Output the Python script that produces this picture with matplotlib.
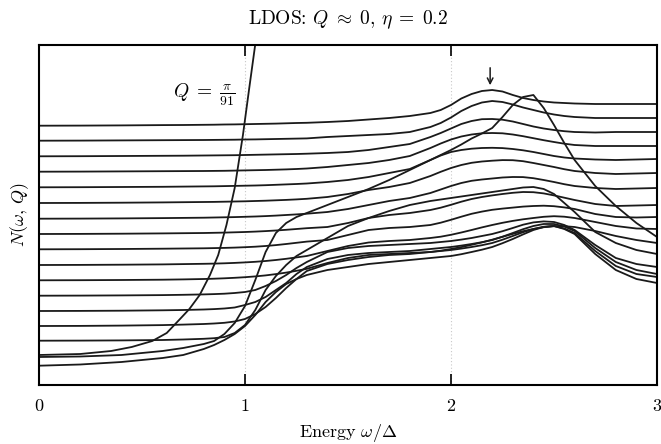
import matplotlib
matplotlib.use('Agg')
import matplotlib.pyplot as plt

plt.rcParams['font.family'] = 'serif'
plt.rcParams['font.serif'] = ['cmr10']
plt.rcParams['mathtext.fontset'] = 'cm'
plt.rcParams['axes.formatter.use_mathtext'] = True

# energy grid omega/Delta
omega = [0, 0.2, 0.4, 0.6, 0.7, 0.8, 0.85, 0.9, 0.95, 1.0,
         1.05, 1.1, 1.15, 1.2, 1.25, 1.3, 1.4, 1.5, 1.6, 1.7, 1.8,
         1.9, 1.95, 2.0, 2.05, 2.1, 2.15, 2.2, 2.25, 2.3, 2.35, 2.4, 2.45, 2.5, 2.55, 2.6,
         2.7, 2.8, 2.9, 3.0]

# Q = pi/91 curve (leaves the frame just above omega = 1)
omega_q91 = [0, 0.2, 0.35, 0.45, 0.55, 0.62, 0.68, 0.73, 0.78, 0.83,
             0.87, 0.91, 0.95, 0.99, 1.02, 1.05, 1.07]
n_q91 = [30, 31, 34, 38, 44, 52, 65, 76, 90, 110,
         130, 160, 197, 250, 296, 341, 375]

# flat family, top to bottom
flat_01 = [259.3, 259.4, 259.6, 259.9, 260, 260.2, 260.3, 260.5, 260.6, 260.8,
           261, 261.2, 261.4, 261.7, 262, 262.2, 263, 264, 265.5, 267, 269,
           272, 275, 280, 286.5, 291, 294, 295, 293.5, 290, 287, 285, 283.5, 282.5, 282, 281.5,
           281, 281, 281, 281]
flat_02 = [244.3, 244.4, 244.6, 244.8, 244.9, 245, 245.1, 245.2, 245.3, 245.5,
           245.6, 245.8, 246, 246.2, 246.4, 246.6, 248, 249, 250, 251, 253,
           258, 262, 267.5, 274, 279, 282.5, 284, 283, 280.5, 277.5, 275, 272.5, 270.5, 269, 268,
           267, 267, 267, 267]
flat_03 = [228.7, 228.8, 229, 229.2, 229.3, 229.5, 229.6, 229.7, 229.8, 230,
           230.2, 230.4, 230.6, 230.8, 231, 231.3, 232, 233, 235, 238, 241,
           248, 252, 256.5, 261, 264, 265.8, 266, 265.3, 263.5, 261, 258.5, 256.5, 255, 253.8, 253,
           252.5, 253, 253, 253]
flat_04 = [213.3, 213.4, 213.6, 213.8, 213.9, 214, 214.1, 214.2, 214.4, 214.6,
           214.8, 215, 215.3, 215.6, 216, 216.5, 218, 220, 222, 225, 229,
           237, 241.5, 245.5, 248.5, 250.5, 251.7, 252, 251.7, 250.5, 248.8, 246.8, 244.8, 243, 241.3, 240,
           239, 239, 239, 239]
flat_05 = [197.7, 197.8, 198, 198.2, 198.4, 198.6, 198.7, 198.9, 199.1, 199.3,
           199.5, 199.8, 200.2, 200.6, 201, 201.5, 203, 205, 208, 212, 216,
           225, 229.5, 233, 235, 236.3, 237, 237.2, 236.9, 236, 234.7, 233, 231, 229, 227.5, 226.5,
           225.5, 225, 225.5, 226]
flat_06 = [182, 182.1, 182.3, 182.6, 182.8, 183, 183.1, 183.3, 183.5, 183.7,
           184, 184.3, 184.7, 185.1, 185.6, 186.2, 188, 191, 195, 198, 202,
           209, 213.2, 217, 220, 222.2, 223.5, 224.3, 224.9, 224.8, 223.8, 222, 220, 218, 215.8, 214,
           212, 211, 211.5, 212]
flat_07 = [166.3, 166.4, 166.6, 166.9, 167.1, 167.3, 167.5, 167.7, 167.9, 168.2,
           168.5, 168.9, 169.4, 170, 170.6, 171.3, 173, 176, 180, 184, 187,
           192, 195.5, 199, 202, 204.2, 205.5, 206.5, 207.5, 208, 207.9, 206.8, 205, 203, 200.8, 199,
           197, 196, 196.5, 197]
flat_08 = [151, 151.1, 151.3, 151.6, 151.8, 152, 152.2, 152.4, 152.7, 153,
           153.4, 153.9, 154.5, 155.2, 156, 156.8, 158, 162, 167, 170, 172,
           175, 177.3, 180.2, 183.3, 186, 188, 189.6, 191, 192.2, 193, 192.8, 191.6, 189.6, 187.3, 185,
           181, 179, 179.5, 180]
flat_09 = [135.7, 135.8, 136, 136.3, 136.5, 136.7, 136.9, 137.1, 137.4, 137.8,
           138.3, 139, 139.9, 141, 142.2, 143.4, 145, 150, 155, 157, 158,
           160, 162.3, 165.2, 168.3, 171.2, 173.4, 175.2, 176.4, 177.4, 178.4, 179, 179.3, 178.8, 177.6, 176,
           171, 168, 167.5, 168]
flat_10 = [120, 120.1, 120.3, 120.6, 120.9, 121.2, 121.4, 121.7, 122.1, 122.6,
           123.2, 124, 125, 126.2, 127.6, 129, 134, 139, 142.5, 144, 145,
           147, 148.3, 150.2, 152.5, 155, 157.6, 160, 162.2, 164.1, 165.7, 167, 168.2, 168.8, 168.3, 167,
           163, 159, 156.5, 156]
flat_11 = [104.7, 104.8, 105, 105.3, 105.6, 106, 106.3, 106.7, 107.2, 107.8,
           108.6, 109.6, 110.9, 112.4, 114.2, 116.2, 122, 127, 130, 131, 132,
           133, 134.3, 136, 137.9, 140.2, 142.6, 145.3, 148.2, 151.1, 153.8, 156, 157.8, 158.8, 158.8, 158,
           154, 149, 145, 142]

# curves that climb out of the gap
rise_tall = [28, 28.5, 30, 34, 37, 41, 44, 51, 62, 79,
             105, 133, 152, 162, 168, 172, 180, 188, 196, 205, 215,
             225, 230, 235, 240.5, 246.5, 251.5, 257, 268, 280, 288, 290, 277, 260, 242, 225,
             199, 179, 162, 148]
rise_mid = [44.3, 44.4, 44.6, 45, 45.5, 46.2, 46.8, 48, 52, 60,
            75, 95, 109, 120, 129, 135, 147, 159, 167, 174, 180,
            184, 185.5, 187, 188.5, 190, 191.5, 193, 194.5, 196, 197.5, 198, 196, 191, 182, 173,
            153, 142, 135, 131]
low_1 = [89.3, 89.4, 89.6, 89.9, 90.2, 90.6, 90.9, 91.3, 92, 93,
         95, 99, 104, 110, 117, 123, 133, 137, 139, 140, 141,
         142, 143, 144, 145.4, 147, 149, 151, 153.8, 157, 160.3, 162.6, 163.6, 163, 160, 155,
         140, 127, 121, 118]
low_2 = [74, 74.1, 74.3, 74.7, 75, 75.5, 75.9, 76.5, 77.5, 80,
         83, 88, 95, 102, 111, 118, 126, 130, 132, 133, 134,
         136, 137, 138, 139.4, 141, 142.8, 145, 148.3, 152, 155.8, 159, 161, 161, 158.5, 154,
         137, 123, 115, 111]
low_3 = [59, 59.1, 59.4, 59.9, 60.4, 61, 61.5, 62.2, 63.5, 66,
         71, 78, 87, 97, 106, 114, 121, 125, 128, 130, 131,
         133, 134, 135, 136.4, 138, 139.8, 142, 145.3, 149, 152.8, 156, 158.3, 159, 156.5, 152,
         134, 119, 111, 108]
low_4 = [19.3, 20.5, 23, 27, 30, 36, 40, 45, 51, 59,
         70, 83, 93, 101, 106, 110, 115, 118, 121, 123, 125,
         127, 128, 129, 130.8, 133, 135.3, 138, 141.8, 146, 150.6, 155, 158, 159, 156, 151,
         131, 115, 106, 102]

curves = [flat_01, flat_02, flat_03, flat_04, flat_05, flat_06, flat_07,
          flat_08, flat_09, flat_10, flat_11, rise_tall, rise_mid,
          low_1, low_2, low_3, low_4]

fig = plt.figure(figsize=(6.61, 4.44), dpi=100)
ax = fig.add_axes([39 / 661, 59 / 444, 618 / 661, 340.3 / 444])

for c in curves:
    ax.plot(omega, c, color='#1a1a1a', lw=1.3)
ax.plot(omega_q91, n_q91, color='#1a1a1a', lw=1.3)

for v in (1, 2):
    ax.axvline(v, color='#c8c8c8', lw=0.8, ls=(0, (1, 2)), zorder=0)

ax.set_xlim(0, 3)
ax.set_ylim(0, 340.3)
ax.set_yticks([])
ax.set_xticks([0, 1, 2, 3])
ax.tick_params(axis='x', direction='in', top=True, length=8, width=1.2,
               labelsize=13, pad=9)
for s in ax.spines.values():
    s.set_linewidth(1.5)

ax.set_xlabel(r'Energy $\omega/\Delta$', fontsize=13, labelpad=6)
ax.set_ylabel(r'$N(\omega,\,Q)$', fontsize=13, labelpad=6)
ax.set_title(r'LDOS: $Q\;\approx\;0$, $\eta\;=\;0.2$', fontsize=14, pad=15)

ax.text(0.8, 290, r'$Q\;=\;\frac{\pi}{91}$', fontsize=14, ha='center', va='center')
ax.annotate('', xy=(2.19, 297), xytext=(2.19, 320),
            arrowprops=dict(arrowstyle='->', color='#1a1a1a', lw=1.1))

fig.savefig('out.png', dpi=100)
